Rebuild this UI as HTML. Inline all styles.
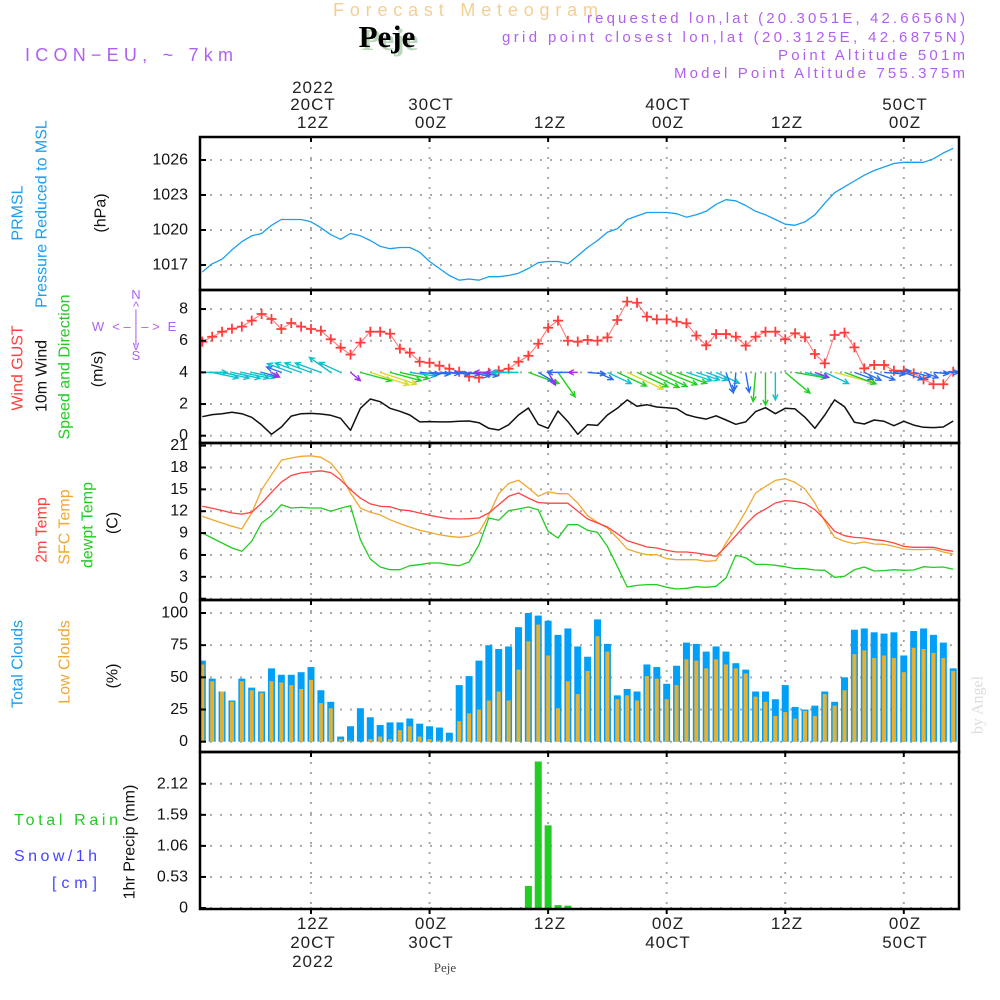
<!DOCTYPE html>
<html><head><meta charset="utf-8"><title>Forecast Meteogram Peje</title>
<style>
html,body{margin:0;padding:0;background:#fff;}
svg{display:block;font-family:"Liberation Sans",sans-serif;}
.tk{font-size:16px;fill:#111;text-anchor:end;dominant-baseline:central;}
.ax{font-size:17px;fill:#222;text-anchor:middle;letter-spacing:1px;}
.rl{font-size:16px;text-anchor:middle;dominant-baseline:central;}
.hd{font-size:15px;fill:#b060f0;text-anchor:end;}
</style></head>
<body>
<svg id="chart" width="1000" height="1000" viewBox="0 0 1000 1000">
<!-- header -->
<text x="333" y="16" font-size="18" fill="#f5cf90" textLength="265" lengthAdjust="spacing">Forecast Meteogram</text>
<text x="390" y="50" font-size="31" font-weight="bold" font-family="Liberation Serif,serif" fill="#bcd8bc" text-anchor="middle">Peje</text>
<text x="387" y="47" font-size="31" font-weight="bold" font-family="Liberation Serif,serif" fill="#000" text-anchor="middle">Peje</text>
<text x="25" y="61" font-size="18" fill="#b060f0" textLength="208" lengthAdjust="spacing">ICON−EU, ~ 7km</text>
<text class="hd" x="965" y="23" textLength="378" lengthAdjust="spacing">requested lon,lat (20.3051E, 42.6656N)</text>
<text class="hd" x="965" y="42" textLength="463" lengthAdjust="spacing">grid point closest lon,lat (20.3125E, 42.6875N)</text>
<text class="hd" x="965" y="60" textLength="187" lengthAdjust="spacing">Point Altitude 501m</text>
<text class="hd" x="965" y="78" textLength="291" lengthAdjust="spacing">Model Point Altitude 755.375m</text>

<!-- top time axis -->
<g>
<text class="ax" x="313" y="93">2022</text><text class="ax" x="313" y="110">20CT</text><text class="ax" x="313" y="128">12Z</text>
<text class="ax" x="431" y="110">30CT</text><text class="ax" x="431" y="128">00Z</text>
<text class="ax" x="550" y="128">12Z</text>
<text class="ax" x="668" y="110">40CT</text><text class="ax" x="668" y="128">00Z</text>
<text class="ax" x="787" y="128">12Z</text>
<text class="ax" x="905" y="110">50CT</text><text class="ax" x="905" y="128">00Z</text>
</g>
<!-- bottom time axis -->
<g>
<text class="ax" x="313" y="929">12Z</text><text class="ax" x="313" y="948">20CT</text><text class="ax" x="313" y="967">2022</text>
<text class="ax" x="431" y="929">00Z</text><text class="ax" x="431" y="948">30CT</text>
<text class="ax" x="550" y="929">12Z</text>
<text class="ax" x="668" y="929">00Z</text><text class="ax" x="668" y="948">40CT</text>
<text class="ax" x="787" y="929">12Z</text>
<text class="ax" x="905" y="929">00Z</text><text class="ax" x="905" y="948">50CT</text>
<text x="445" y="972" font-size="13" font-family="Liberation Serif,serif" fill="#444" text-anchor="middle">Peje</text>
</g>

<!-- left labels -->
<g>
<text class="rl" transform="translate(18,213) rotate(-90)" fill="#1a9ff0">PRMSL</text>
<text class="rl" transform="translate(42,214) rotate(-90)" fill="#1a9ff0">Pressure Reduced to MSL</text>
<text class="rl" transform="translate(101,213) rotate(-90)" fill="#111">(hPa)</text>
</g>
<g>
<text class="rl" transform="translate(18,368) rotate(-90)" fill="#ff4040">Wind GUST</text>
<text class="rl" transform="translate(42,376) rotate(-90)" fill="#111">10m Wind</text>
<text class="rl" transform="translate(65,367) rotate(-90)" fill="#22cc22">Speed and Direction</text>
<text class="rl" transform="translate(98,369) rotate(-90)" fill="#111">(m/s)</text>
</g>
<g fill="#b060f0" font-size="13" text-anchor="middle">
<text x="136" y="299">N</text><text x="136" y="311">^</text><text x="136" y="319">|</text>
<text x="98" y="331">W</text><text x="136" y="331">&lt; – | – &gt;</text><text x="172" y="331">E</text>
<text x="136" y="343">|</text><text x="136" y="350">v</text><text x="136" y="360">S</text>
</g>
<g>
<text class="rl" transform="translate(42,530) rotate(-90)" fill="#ff4040">2m Temp</text>
<text class="rl" transform="translate(65,527) rotate(-90)" fill="#f0a830">SFC Temp</text>
<text class="rl" transform="translate(88,525) rotate(-90)" fill="#22cc22">dewpt Temp</text>
<text class="rl" transform="translate(113,523) rotate(-90)" fill="#111">(C)</text>
</g>
<g>
<text class="rl" transform="translate(18,664) rotate(-90)" fill="#1a9ff0">Total Clouds</text>
<text class="rl" transform="translate(65,662) rotate(-90)" fill="#f0a830">Low Clouds</text>
<text class="rl" transform="translate(113,676) rotate(-90)" fill="#111">(%)</text>
</g>
<g>
<text x="14" y="825" font-size="16" fill="#22cc22" textLength="104" lengthAdjust="spacing">Total  Rain</text>
<text x="14" y="861" font-size="16" fill="#4444ff" textLength="83" lengthAdjust="spacing">Snow/1h</text>
<text x="52" y="888" font-size="16" fill="#4444ff" textLength="45" lengthAdjust="spacing">[cm]</text>
<text class="rl" transform="translate(130,842) rotate(-90)" fill="#111">1hr Precip (mm)</text>
</g>
<text class="rl" transform="translate(978,705) rotate(-90)" fill="#dcdcdc" font-family="Liberation Serif,serif">by Angel</text>

<g id="grid"></g>
<g id="marks"></g>
<g id="frames"></g>
</svg>
<script>
// ---- data (hours 1..77 from 00Z 20CT) ----
const hourLabels = ['12Z 20CT','00Z 30CT','12Z 30CT','00Z 40CT','12Z 40CT','00Z 50CT'];
const pressure = [1016.4,1017.1,1017.5,1018.3,1019.0,1019.5,1019.7,1020.4,1020.9,1020.9,1020.9,1020.7,1020.2,1019.6,1019.2,1019.7,1019.5,1019.1,1018.6,1018.4,1018.5,1018.5,1018.1,1017.3,1016.7,1016.1,1015.7,1015.8,1015.7,1016.0,1016.0,1016.1,1016.3,1016.7,1017.2,1017.3,1017.3,1017.1,1017.8,1018.5,1019.1,1019.8,1020.1,1020.9,1021.2,1021.5,1021.5,1021.5,1021.4,1021.1,1021.3,1021.6,1022.2,1022.6,1022.5,1022.1,1021.6,1021.3,1020.9,1020.5,1020.4,1020.7,1021.3,1022.3,1023.2,1023.7,1024.2,1024.7,1025.1,1025.4,1025.7,1025.8,1025.8,1025.8,1026.1,1026.6,1027.0];
const gust = [5.94,6.25,6.57,6.76,6.89,7.27,7.69,7.37,6.74,7.12,6.89,6.74,6.63,6.09,5.56,5.12,5.88,6.57,6.57,6.44,5.50,5.24,4.67,4.61,4.42,4.23,4.04,3.73,3.66,3.98,4.11,4.23,4.67,5.05,5.81,6.82,7.27,6.0,5.94,6.05,6.0,6.21,7.31,8.47,8.4,7.52,7.35,7.35,7.2,7.1,6.32,5.71,6.42,6.42,6.25,5.69,6.25,6.57,6.57,6.09,6.47,6.21,5.16,4.57,6.36,6.51,5.58,4.25,4.47,4.47,4.11,4.11,3.94,3.56,3.25,3.25,4.04];
const windSpeed = [1.2,1.33,1.39,1.48,1.39,1.16,0.68,0.09,0.55,1.24,1.39,1.41,1.37,1.29,1.1,0.34,1.73,2.32,2.15,1.73,1.54,1.31,0.87,0.89,0.87,0.87,0.91,0.93,0.82,0.47,0.36,0.69,1.31,1.75,0.72,0.47,1.56,0.89,0.09,0.7,0.65,1.31,1.73,2.26,1.86,1.96,1.81,1.77,1.71,1.33,1.16,1.05,1.26,0.99,0.72,0.87,1.52,1.77,1.39,1.73,1.69,1.16,0.47,1.31,2.26,1.83,0.85,0.74,0.99,0.91,0.63,0.91,0.67,0.53,0.51,0.55,0.93];
const windDir = [0,12,12,12,12,12,15,30,200,200,200,200,200,215,205,40,15,18,18,15,12,8,5,5,3,5,5,10,10,180,180,180,180,20,30,60,55,180,180,5,25,25,25,25,25,25,25,22,20,18,18,20,25,70,95,80,95,90,90,40,10,12,20,25,15,20,20,25,20,5,-5,20,15,20,5,0,0];
const temp2m = [12.67,12.4,12.1,11.75,11.6,11.85,13.1,14.6,16.0,16.9,17.25,17.4,17.55,17.3,16.3,14.95,13.8,13.0,12.67,12.6,12.2,12.07,11.75,11.44,11.2,10.97,10.93,10.97,11.07,11.75,12.9,14.05,14.5,13.8,13.2,13.1,13.1,13.1,12.0,10.93,10.38,9.83,8.92,7.96,7.55,7.09,6.95,6.63,6.41,6.41,6.27,6.04,5.81,7.18,8.64,10.16,11.53,12.3,13.13,13.45,13.36,13.04,12.21,10.84,9.24,8.64,8.41,8.32,8.1,7.96,7.64,7.18,7.05,7.05,7.05,6.72,6.5];
const tempSfc = [11.3,10.84,10.38,9.93,9.56,11.75,14.95,17.0,18.98,19.3,19.53,19.6,19.4,18.6,17.0,14.5,12.44,11.85,11.5,10.84,10.3,9.84,9.38,9.1,8.78,8.56,8.42,8.56,9.1,11.5,14.4,15.8,16.25,15.2,14.05,14.65,14.4,14.4,13.12,11.39,10.48,9.7,8.33,6.82,6.36,6.04,6.04,5.49,5.35,5.35,5.35,5.13,5.22,7.64,9.7,11.98,14.5,15.41,16.23,16.46,15.96,15.05,13.13,10.62,8.41,7.87,7.55,7.78,7.5,7.46,7.18,6.82,6.73,6.73,6.82,6.41,6.13];
const dewpt = [9.0,8.33,7.64,6.95,6.5,7.87,10.38,11.4,12.9,12.44,12.53,12.44,12.44,12.0,12.4,12.76,8.1,5.45,4.35,3.98,3.98,4.53,4.66,4.9,4.9,4.66,4.53,5.03,7.4,11.07,10.75,12.07,12.3,12.58,12.2,9.24,8.33,10.15,10.15,9.38,9.1,7.18,4.44,1.6,1.83,1.93,1.93,1.56,1.33,1.42,1.65,1.56,1.7,2.84,5.95,5.63,4.71,4.71,4.58,4.39,4.12,4.12,3.94,3.89,2.93,3.07,3.98,4.35,3.8,3.85,3.98,3.89,3.94,4.39,4.3,4.35,4.03];
const totalCloud = [63,49,39,32,49,42,39,57,52,52,54,58,40,31,4,12,26,19,13,15,15,18,14,12,11,7,44,51,63,75,72,74,89,100,98,94,83,88,74,66,95,76,36,41,39,60,58,45,59,77,76,70,74,70,61,56,39,39,33,44,27,25,28,39,31,50,87,88,85,84,85,67,86,88,83,77,57];
const lowCloud = [60,47,39,31,47,40,38,47,46,44,41,48,30,26,2,1,0,2,4,2,9,12,4,2,1,1,16,22,25,32,39,32,56,78,91,67,26,47,37,55,82,70,33,36,32,51,49,33,44,64,63,57,64,60,57,53,35,31,20,23,18,24,20,37,28,40,68,71,65,67,65,54,73,72,69,65,55];
const precip = [0,0,0,0,0,0,0,0,0,0,0,0,0,0,0,0,0,0,0,0,0,0,0,0,0,0,0,0,0,0,0,0,0,0.376,2.5,1.41,0.05,0.04,0,0,0,0,0,0,0,0,0,0,0,0,0,0,0,0,0,0,0,0,0,0,0,0,0,0,0,0,0,0,0,0,0,0,0,0,0,0,0];
const pressTicks = [1017,1020,1023,1026];
const windTicks = [0,2,4,6,8];
const tempTicks = [0,3,6,9,12,15,18,21];
const cloudTicks = [0,25,50,75,100];
const precipTicks = [0,0.53,1.06,1.59,2.12];
const gridHours = [12,24,36,48,60,72];

// ---- axes ----
const NS='http://www.w3.org/2000/svg';
const L=200,R=959;
const x = h => 311 + (h-12)*9.88;
const panels = {
 press:{top:137,bot:290,y:v=>265-(v-1017)*35/3},
 wind:{top:290,bot:443,y:v=>435.7-v*15.83},
 temp:{top:443,bot:600,y:v=>598.7-v*7.29},
 cloud:{top:600,bot:752,y:v=>741.7-v*1.287},
 precip:{top:752,bot:909,y:v=>908-v*58.6}
};
const grid=document.getElementById('grid'), marks=document.getElementById('marks'), frames=document.getElementById('frames');
function el(tag,attrs,parent){const e=document.createElementNS(NS,tag);for(const k in attrs)e.setAttribute(k,attrs[k]);(parent||marks).appendChild(e);return e;}
const defs=el('defs',{},document.getElementById('chart'));
const cp=el('clipPath',{id:'plotclip'},defs);
el('rect',{x:L,y:137,width:R-L,height:772},cp);
marks.setAttribute('clip-path','url(#plotclip)');

function axis(p,ticks,fmt,name){
 const P=panels[p];
 ticks.forEach(t=>{
  const yy=P.y(t);
  const g=el('line',{x1:L,x2:R,y1:yy,y2:yy,stroke:'#aaa','stroke-width':2,'stroke-dasharray':'2,8'},grid);
  
  
  const tl=el('line',{x1:L,x2:L+6,y1:yy,y2:yy,stroke:'#000','stroke-width':2},frames);
  
  
  const tx=el('text',{x:188,y:yy,class:'tk'},frames);
  tx.textContent=fmt(t);
  
  
 });
 gridHours.forEach(h=>{
  const vl=el('line',{x1:x(h),x2:x(h),y1:P.top,y2:P.bot,stroke:'#aaa','stroke-width':2,'stroke-dasharray':'2,8'},grid);
  
  
  const tt=el('line',{x1:x(h),x2:x(h),y1:P.top,y2:P.top+5,stroke:'#000','stroke-width':2},frames);
  
  
 });
 const fr=el('rect',{x:L,y:P.top,width:R-L,height:P.bot-P.top,fill:'none',stroke:'#000','stroke-width':2.5},frames);
 
 
}
axis('press',pressTicks,t=>String(t),'pressure');
axis('wind',windTicks,t=>String(t),'wind');
axis('temp',tempTicks,t=>String(t),'temperature');
axis('cloud',cloudTicks,t=>String(t),'cloud');
axis('precip',precipTicks,t=>t===0?'0':t.toFixed(2),'precip');
gridHours.forEach(h=>{
 const bt=el('line',{x1:x(h),x2:x(h),y1:909,y2:914,stroke:'#000','stroke-width':2},frames);
 
 
});

function line(arr,p,color,w,name){
 const P=panels[p];
 const pts=arr.map((v,i)=>x(i+1).toFixed(1)+','+P.y(v).toFixed(1)).join(' ');
 const pl=el('polyline',{points:pts,fill:'none',stroke:color,'stroke-width':w,'stroke-linejoin':'round'});
 
 
}
line(pressure,'press','#1a9ff0',1.3,'pressure-line');
line(windSpeed,'wind','#111',1.5,'wind-speed-line');
line(gust,'wind','#ff7070',1,'gust-line');
gust.forEach((v,i)=>{
 const cx=x(i+1), cy=panels.wind.y(v);
 const m=el('path',{d:`M${cx-5},${cy}H${cx+5}M${cx},${cy-5}V${cy+5}`,stroke:'#ff3c3c','stroke-width':1.8});
 
 
});
function spdColor(s){return s<0.5?'#9b30e8':s<1.0?'#2a6cf0':s<1.5?'#10c0d0':s<2.0?'#20d020':'#d8d830';}
windDir.forEach((d,i)=>{
 const s=windSpeed[i], len=8+14*s, a=d*Math.PI/180;
 const x0=x(i+1), y0=panels.wind.y(4);
 const x1=x0+len*Math.cos(a), y1=y0+len*Math.sin(a);
 const h1=a+Math.PI-0.45, h2=a+Math.PI+0.45;
 const ar=el('path',{d:`M${x0},${y0}L${x1},${y1}M${x1+6*Math.cos(h1)},${y1+6*Math.sin(h1)}L${x1},${y1}L${x1+6*Math.cos(h2)},${y1+6*Math.sin(h2)}`,fill:'none',stroke:spdColor(s),'stroke-width':1.4});
 
 
});
line(tempSfc,'temp','#f0a830',1.3,'sfc-temp-line');
line(temp2m,'temp','#ff4444',1.3,'2m-temp-line');
line(dewpt,'temp','#22cc22',1.3,'dewpt-line');
totalCloud.forEach((v,i)=>{
 const P=panels.cloud, y0=P.y(0), yy=P.y(v);
 const b=el('rect',{x:x(i+1)-3.5,y:yy,width:7,height:y0-yy,fill:'#00a0f8'});
 
 
});
lowCloud.forEach((v,i)=>{
 const P=panels.cloud, y0=P.y(0), yy=P.y(v);
 const b=el('rect',{x:x(i+1)-2,y:yy,width:4,height:y0-yy,fill:'#e8b030'});
 
 
});
precip.forEach((v,i)=>{
 if(v<=0)return;
 const P=panels.precip, y0=P.y(0), yy=P.y(v);
 const b=el('rect',{x:x(i+1)-3.5,y:yy,width:7,height:y0-yy,fill:'#22cc22'});
 
 
});
</script>
</body></html>
